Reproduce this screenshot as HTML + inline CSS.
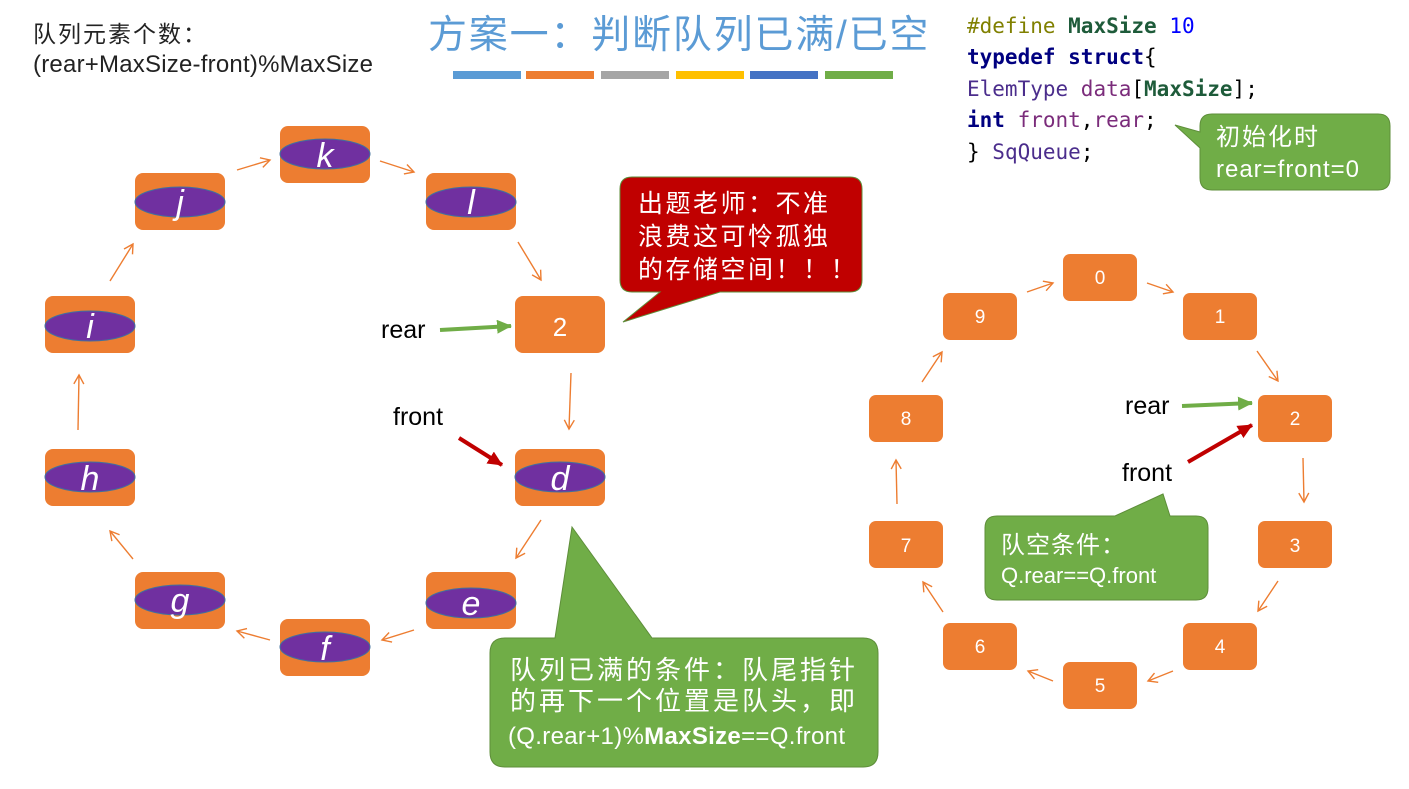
<!DOCTYPE html>
<html><head><meta charset="utf-8"><style>
html,body{margin:0;padding:0;background:#fff;}
svg{display:block;}
text{font-family:"Liberation Sans","Noto Sans CJK SC",sans-serif;}
text.mono{font-family:"DejaVu Sans Mono","Liberation Mono",monospace;font-size:21px;}
</style></head><body>
<svg width="1409" height="789" viewBox="0 0 1409 789" xmlns="http://www.w3.org/2000/svg">
<defs>
<marker id="oa" markerWidth="12" markerHeight="12" refX="10" refY="6" orient="auto" markerUnits="userSpaceOnUse">
<path d="M1,1 L10,6 L1,11" fill="none" stroke="#ED7D31" stroke-width="1.4"/></marker>
<marker id="ga" markerWidth="16" markerHeight="14" refX="14" refY="7" orient="auto" markerUnits="userSpaceOnUse">
<path d="M0,0 L15,7 L0,14 Z" fill="#70AD47"/></marker>
<marker id="ra" markerWidth="16" markerHeight="14" refX="14" refY="7" orient="auto" markerUnits="userSpaceOnUse">
<path d="M0,0 L15,7 L0,14 Z" fill="#C00000"/></marker>
</defs>

<text x="33" y="42" font-size="23" letter-spacing="2" fill="#222">队列元素个数：</text>
<text x="33" y="72" font-size="24" fill="#222" textLength="340">(rear+MaxSize-front)%MaxSize</text>

<text x="428" y="48" font-size="39" letter-spacing="1.8" fill="#5B9BD5">方案一：判断队列已满/已空</text>
<rect x="453" y="71" width="68" height="8" fill="#5B9BD5"/>
<rect x="526" y="71" width="68" height="8" fill="#ED7D31"/>
<rect x="601" y="71" width="68" height="8" fill="#A5A5A5"/>
<rect x="676" y="71" width="68" height="8" fill="#FFC000"/>
<rect x="750" y="71" width="68" height="8" fill="#4472C4"/>
<rect x="825" y="71" width="68" height="8" fill="#70AD47"/>

<text class="mono" x="967" y="33"><tspan fill="#808000">#define </tspan><tspan fill="#1E5B3A" font-weight="bold">MaxSize </tspan><tspan fill="#0000FF">10</tspan></text>
<text class="mono" x="967" y="64" fill="#000080" font-weight="bold">typedef struct<tspan font-weight="normal" fill="#000">{</tspan></text>
<text class="mono" x="967" y="96"><tspan fill="#4B2D8C">ElemType </tspan><tspan fill="#7B2C7B">data</tspan><tspan fill="#000">[</tspan><tspan fill="#1E5B3A" font-weight="bold">MaxSize</tspan><tspan fill="#000">];</tspan></text>
<text class="mono" x="967" y="127"><tspan fill="#000080" font-weight="bold">int </tspan><tspan fill="#7B2C7B">front</tspan><tspan fill="#000">,</tspan><tspan fill="#7B2C7B">rear</tspan><tspan fill="#000">;</tspan></text>
<text class="mono" x="967" y="159"><tspan fill="#000">} </tspan><tspan fill="#4B2D8C">SqQueue</tspan><tspan fill="#000">;</tspan></text>

<path d="M1212,114 H1378 Q1390,114 1390,126 V178 Q1390,190 1378,190 H1212 Q1200,190 1200,178 V148 L1175,125 L1200,132 V126 Q1200,114 1212,114 Z" fill="#70AD47" stroke="#5E8E3A" stroke-width="1"/>
<text x="1216" y="145" font-size="24" letter-spacing="2" fill="#fff">初始化时</text>
<text x="1216" y="177" font-size="24" fill="#fff" textLength="143">rear=front=0</text>

<path d="M632,177 H850 Q862,177 862,189 V280 Q862,292 850,292 H720 L623,322 L660,292 H632 Q620,292 620,280 V189 Q620,177 632,177 Z" fill="#C00000" stroke="#5E8E3A" stroke-width="1"/>
<text x="638" y="212" font-size="25" letter-spacing="2.5" fill="#fff">出题老师：不准</text>
<text x="638" y="245" font-size="25" letter-spacing="2.5" fill="#fff">浪费这可怜孤独</text>
<text x="638" y="278" font-size="25" letter-spacing="2.5" fill="#fff">的存储空间！！！</text>

<path d="M505,638 H555 L572,527 L652,638 H863 Q878,638 878,653 V752 Q878,767 863,767 H505 Q490,767 490,752 V653 Q490,638 505,638 Z" fill="#70AD47" stroke="#5E8E3A" stroke-width="1"/>
<text x="510" y="679" font-size="26" letter-spacing="3" fill="#fff">队列已满的条件：队尾指针</text>
<text x="510" y="710" font-size="26" letter-spacing="3" fill="#fff">的再下一个位置是队头，即</text>
<text x="508" y="744" font-size="24" fill="#fff" textLength="337">(Q.rear+1)%<tspan font-weight="bold">MaxSize</tspan>==Q.front</text>

<g font-size="34" font-style="italic" fill="#fff" text-anchor="middle">
<g><rect x="280" y="126" width="90" height="57" rx="8" fill="#ED7D31"/><ellipse cx="325" cy="154" rx="45" ry="15" fill="#7030A0" stroke="#41719C"/><text x="325" y="167">k</text></g>
<g><rect x="135" y="173" width="90" height="57" rx="8" fill="#ED7D31"/><ellipse cx="180" cy="202" rx="45" ry="15" fill="#7030A0" stroke="#41719C"/><text x="180" y="214">j</text></g>
<g><rect x="426" y="173" width="90" height="57" rx="8" fill="#ED7D31"/><ellipse cx="471" cy="202" rx="45" ry="15" fill="#7030A0" stroke="#41719C"/><text x="471" y="214">l</text></g>
<g><rect x="45" y="296" width="90" height="57" rx="8" fill="#ED7D31"/><ellipse cx="90" cy="326" rx="45" ry="15" fill="#7030A0" stroke="#41719C"/><text x="90" y="338">i</text></g>
<g><rect x="515" y="296" width="90" height="57" rx="8" fill="#ED7D31"/><text x="560" y="336" font-style="normal" font-size="26">2</text></g>
<g><rect x="515" y="449" width="90" height="57" rx="8" fill="#ED7D31"/><ellipse cx="560" cy="477" rx="45" ry="15" fill="#7030A0" stroke="#41719C"/><text x="560" y="490">d</text></g>
<g><rect x="45" y="449" width="90" height="57" rx="8" fill="#ED7D31"/><ellipse cx="90" cy="477" rx="45" ry="15" fill="#7030A0" stroke="#41719C"/><text x="90" y="490">h</text></g>
<g><rect x="135" y="572" width="90" height="57" rx="8" fill="#ED7D31"/><ellipse cx="180" cy="600" rx="45" ry="15" fill="#7030A0" stroke="#41719C"/><text x="180" y="612">g</text></g>
<g><rect x="426" y="572" width="90" height="57" rx="8" fill="#ED7D31"/><ellipse cx="471" cy="603" rx="45" ry="15" fill="#7030A0" stroke="#41719C"/><text x="471" y="615">e</text></g>
<g><rect x="280" y="619" width="90" height="57" rx="8" fill="#ED7D31"/><ellipse cx="325" cy="647" rx="45" ry="15" fill="#7030A0" stroke="#41719C"/><text x="325" y="660">f</text></g>
</g>

<g stroke="#ED7D31" stroke-width="1.4" fill="none" marker-end="url(#oa)">
<path d="M237,170 L270,160"/>
<path d="M380,161 L414,172"/>
<path d="M518,242 L541,280"/>
<path d="M571,373 L569,429"/>
<path d="M541,520 L516,558"/>
<path d="M414,630 L382,640"/>
<path d="M270,640 L237,631"/>
<path d="M133,559 L110,531"/>
<path d="M78,430 L79,375"/>
<path d="M110,281 L133,244"/>
</g>

<text x="381" y="338" font-size="25" fill="#000">rear</text>
<line x1="440" y1="330" x2="511" y2="326" stroke="#70AD47" stroke-width="4" marker-end="url(#ga)"/>
<text x="393" y="425" font-size="25" fill="#000">front</text>
<line x1="459" y1="438" x2="502" y2="465" stroke="#C00000" stroke-width="4" marker-end="url(#ra)"/>

<g font-size="19" fill="#fff" text-anchor="middle">
<rect x="1063" y="254" width="74" height="47" rx="7" fill="#ED7D31"/><text x="1100" y="284">0</text>
<rect x="1183" y="293" width="74" height="47" rx="7" fill="#ED7D31"/><text x="1220" y="323">1</text>
<rect x="1258" y="395" width="74" height="47" rx="7" fill="#ED7D31"/><text x="1295" y="425">2</text>
<rect x="1258" y="521" width="74" height="47" rx="7" fill="#ED7D31"/><text x="1295" y="552">3</text>
<rect x="1183" y="623" width="74" height="47" rx="7" fill="#ED7D31"/><text x="1220" y="653">4</text>
<rect x="1063" y="662" width="74" height="47" rx="7" fill="#ED7D31"/><text x="1100" y="692">5</text>
<rect x="943" y="623" width="74" height="47" rx="7" fill="#ED7D31"/><text x="980" y="653">6</text>
<rect x="869" y="521" width="74" height="47" rx="7" fill="#ED7D31"/><text x="906" y="552">7</text>
<rect x="869" y="395" width="74" height="47" rx="7" fill="#ED7D31"/><text x="906" y="425">8</text>
<rect x="943" y="293" width="74" height="47" rx="7" fill="#ED7D31"/><text x="980" y="323">9</text>
</g>
<g stroke="#ED7D31" stroke-width="1.4" fill="none" marker-end="url(#oa)">
<path d="M1027,292 L1053,283"/>
<path d="M1147,283 L1173,292"/>
<path d="M1257,351 L1278,381"/>
<path d="M1303,458 L1304,502"/>
<path d="M1278,581 L1258,611"/>
<path d="M1173,671 L1148,681"/>
<path d="M1053,681 L1028,671"/>
<path d="M943,612 L923,582"/>
<path d="M897,504 L896,460"/>
<path d="M922,382 L942,352"/>
</g>
<text x="1125" y="414" font-size="25" fill="#000">rear</text>
<line x1="1182" y1="406" x2="1252" y2="403" stroke="#70AD47" stroke-width="4" marker-end="url(#ga)"/>
<text x="1122" y="481" font-size="25" fill="#000">front</text>
<line x1="1188" y1="462" x2="1252" y2="425" stroke="#C00000" stroke-width="4" marker-end="url(#ra)"/>

<path d="M997,516 H1115 L1163,494 L1170,516 H1196 Q1208,516 1208,528 V588 Q1208,600 1196,600 H997 Q985,600 985,588 V528 Q985,516 997,516 Z" fill="#70AD47" stroke="#5E8E3A" stroke-width="1"/>
<text x="1001" y="553" font-size="24" letter-spacing="1" fill="#fff">队空条件：</text>
<text x="1001" y="583" font-size="22" fill="#fff">Q.rear==Q.front</text>
</svg>
</body></html>
